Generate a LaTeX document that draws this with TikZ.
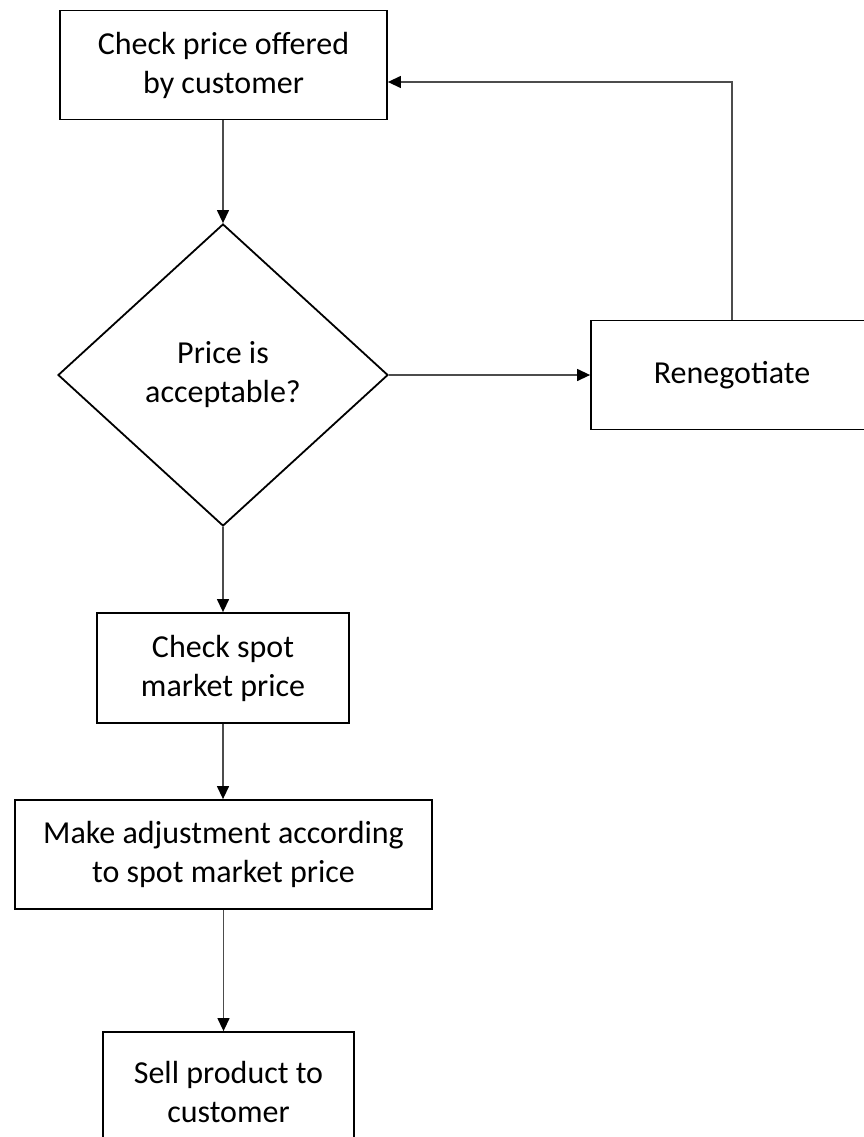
\documentclass[tikz,border=0pt]{standalone}
\usepackage{fontspec}
\setmainfont{Carlito}
\usetikzlibrary{shapes.geometric,arrows.meta}
\begin{document}
\begin{tikzpicture}[x=1pt,y=-1pt,
  every node/.style={font=\fontsize{32}{39}\selectfont, align=center, inner sep=0pt},
  procbox/.style={draw=black, line width=1.8pt, rectangle},
  decision/.style={draw=black, line width=1.8pt, diamond},
  conn/.style={draw=black!70, line width=1.3pt, -{Triangle[length=13pt,width=12pt,color=black]}}]
  \useasboundingbox (0,0) rectangle (864,1137);
  \clip (0,0) rectangle (864,1137);
  \fill[white] (0,0) rectangle (864,1137);

  \node[procbox, minimum width=327pt, minimum height=109pt] (check) at (223.5,65) {Check price offered\\by customer};
  \node[decision, minimum width=330pt, minimum height=302pt] (accept) at (223,375) {Price is\\acceptable?};
  \node[procbox, minimum width=282pt, minimum height=109pt] (reneg) at (732,375) {Renegotiate};
  \node[procbox, minimum width=252pt, minimum height=110pt] (spot) at (223,668) {Check spot\\market price};
  \node[procbox, minimum width=417pt, minimum height=109pt] (adjust) at (223.5,854.5) {Make adjustment according\\to spot market price};
  \node[procbox, minimum width=251pt, minimum height=120pt] (sell) at (228.5,1092) {Sell product to\\customer};

  \draw[conn] (check.south -| accept.north) -- (accept.north);
  \draw[conn] (accept.east) -- (reneg.west);
  \draw[conn] (reneg.north) |- ([yshift=-17pt]check.east);
  \draw[conn] (accept.south) -- (accept.south |- spot.north);
  \draw[conn] (spot.south) -- (spot.south |- adjust.north);
  \draw[conn] (adjust.south) -- (adjust.south |- sell.north);
\end{tikzpicture}
\end{document}
